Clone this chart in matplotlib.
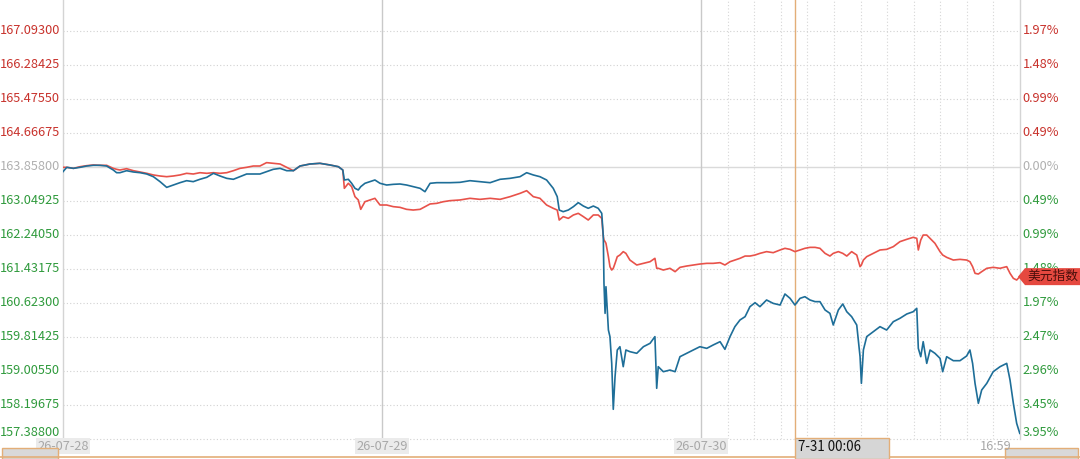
import matplotlib.pyplot as plt
import matplotlib.transforms as mtransforms
from matplotlib.lines import Line2D
from matplotlib.patches import Rectangle, Polygon

plt.rcParams['font.family'] = ['Noto Sans CJK SC', 'DejaVu Sans']

# reference price (previous close) and grid step of the left axis
BASE = 163.858
STEP = 0.80875

# minutes since the start of the 3-day window (one day = 1440 minutes, 17:00 -> 16:59)
minutes = [
    0, 17, 47, 77, 107, 137, 167, 197, 227, 242, 257, 287, 318, 348, 378, 408, 438, 468, 498,
    528, 558, 588, 618, 649, 679, 709, 739, 769, 799, 829, 859, 889, 919, 949, 980, 1010, 1040, 1070,
    1115, 1160, 1205, 1243, 1263, 1270, 1288, 1303, 1318, 1333, 1344, 1363, 1386, 1408, 1431, 1461,
    1491, 1521, 1551, 1581, 1612, 1634, 1657, 1687, 1717, 1747, 1792, 1837, 1882, 1928, 1973, 2018,
    2063, 2093, 2123, 2153,
    2183, 2213, 2231, 2240, 2258, 2281, 2304, 2326, 2349, 2371, 2394, 2416, 2432, 2439, 2442, 2447,
    2451, 2462, 2469, 2477, 2484, 2492, 2502, 2514, 2529, 2541, 2559, 2590, 2620, 2650, 2672, 2680,
    2687, 2710, 2740, 2763, 2785, 2815, 2845, 2875, 2906, 2935, 2966, 2988, 3011, 3033, 3056, 3079,
    3101, 3124, 3146, 3176, 3206, 3237,
    3259, 3282, 3304, 3327, 3349, 3372, 3395, 3417, 3440, 3462, 3477, 3500, 3520, 3538, 3560, 3583,
    3598, 3604, 3613, 3628, 3658, 3688, 3718, 3748, 3778, 3809, 3838, 3854, 3861, 3872, 3883, 3899,
    3914, 3936, 3959, 3971, 3989, 4019, 4049, 4079, 4094, 4106, 4117, 4132, 4147, 4170, 4199, 4230,
    4260, 4275, 4290, 4305, 4319,
]

# main symbol, % change vs BASE (blue line, left axis in price)
main_pct = [
    -0.072, -0.009, -0.024, -0.009, 0.010, 0.020, 0.020, 0.010, -0.048, -0.087, -0.087, -0.058,
    -0.077, -0.087, -0.106, -0.145, -0.217, -0.300, -0.266, -0.232, -0.203, -0.217, -0.183, -0.154,
    -0.096, -0.135, -0.169, -0.183, -0.145, -0.106, -0.106, -0.106, -0.072, -0.038, -0.024, -0.058,
    -0.058, 0.010,
    0.039, 0.049, 0.025, 0.000, -0.048, -0.193, -0.183, -0.241, -0.314, -0.338, -0.290, -0.241,
    -0.217, -0.193, -0.241, -0.266, -0.256, -0.251, -0.266, -0.290, -0.314, -0.363, -0.241, -0.232,
    -0.232, -0.232, -0.227, -0.203, -0.217, -0.232, -0.183, -0.169, -0.145, -0.087, -0.120, -0.145,
    -0.193, -0.314, -0.435, -0.629, -0.653, -0.629, -0.580, -0.522, -0.571, -0.604, -0.571, -0.604,
    -0.677, -1.016, -1.693, -2.129, -1.742, -2.371, -2.467, -2.855, -3.522, -3.048, -2.661, -2.613,
    -2.903, -2.661, -2.685, -2.709, -2.613, -2.564, -2.467, -3.217, -2.903, -2.976, -2.952, -2.976,
    -2.758, -2.709, -2.661, -2.613, -2.637, -2.588, -2.540, -2.651, -2.467, -2.322, -2.225, -2.177,
    -2.032, -1.974, -2.032, -1.935, -1.984, -2.008,
    -1.848, -1.911, -2.008, -1.911, -1.887, -1.935, -1.959, -1.959, -2.080, -2.129, -2.298, -2.080,
    -1.993, -2.105, -2.177, -2.298, -2.758, -3.145, -2.661, -2.467, -2.395, -2.322, -2.371, -2.250,
    -2.201, -2.138, -2.105, -2.056, -2.637, -2.758, -2.540, -2.855, -2.661, -2.709, -2.782, -2.976,
    -2.758, -2.816, -2.816, -2.748, -2.661, -2.855, -3.145, -3.435, -3.242, -3.145, -2.976, -2.903,
    -2.855, -3.097, -3.435, -3.726, -3.871,
]

# 美元指数, % change (red line, right axis)
dxy_pct = [
    -0.009, -0.009, -0.024, 0.000, 0.015, 0.025, 0.020, 0.020, -0.024, -0.038, -0.048, -0.029,
    -0.058, -0.077, -0.096, -0.120, -0.135, -0.145, -0.135, -0.120, -0.096, -0.106, -0.087, -0.096,
    -0.087, -0.096, -0.087, -0.058, -0.024, -0.009, 0.010, 0.010, 0.059, 0.049, 0.039, -0.009,
    -0.058, 0.010,
    0.039, 0.049, 0.025, 0.000, -0.048, -0.314, -0.241, -0.290, -0.435, -0.483, -0.619, -0.508,
    -0.483, -0.459, -0.556, -0.556, -0.580, -0.590, -0.619, -0.629, -0.619, -0.580, -0.541, -0.532,
    -0.508, -0.493, -0.483, -0.459, -0.474, -0.459, -0.474, -0.435, -0.387, -0.348, -0.435, -0.459,
    -0.556, -0.604, -0.629, -0.774, -0.725, -0.750, -0.701, -0.677, -0.725, -0.774, -0.701, -0.701,
    -0.750, -1.016, -1.064, -1.088, -1.112, -1.306, -1.451, -1.500, -1.475, -1.403, -1.306, -1.282,
    -1.233, -1.258, -1.355, -1.427, -1.403, -1.379, -1.330, -1.475, -1.475, -1.500, -1.475, -1.524,
    -1.461, -1.442, -1.427, -1.413, -1.403, -1.403, -1.393, -1.427, -1.379, -1.355, -1.330, -1.297,
    -1.297, -1.282, -1.258, -1.233, -1.248, -1.209,
    -1.185, -1.200, -1.233, -1.209, -1.185, -1.171, -1.171, -1.185, -1.258, -1.297, -1.258, -1.233,
    -1.258, -1.297, -1.233, -1.282, -1.451, -1.427, -1.355, -1.306, -1.258, -1.209, -1.200, -1.161,
    -1.088, -1.054, -1.025, -1.040, -1.209, -1.064, -0.992, -0.992, -1.040, -1.112, -1.233, -1.282,
    -1.316, -1.355, -1.345, -1.355, -1.379, -1.451, -1.548, -1.558, -1.524, -1.475, -1.461, -1.475,
    -1.451, -1.548, -1.621, -1.645, -1.596,
]

day_starts = [0, 1440, 2880]
day_labels = ["26-07-28", "26-07-29", "26-07-30"]
end_label = "16:59"
cross_minute = 3306
cross_label = "7-31 00:06"
dxy_name = "美元指数"
grid_steps = list(range(-8, 6))

RED_TXT = "#c8322c"
GREEN_TXT = "#2f9a3c"
GRAY_TXT = "#b0b0b0"
RED_LINE = "#e8524a"
BLUE_LINE = "#1e6e98"
ORANGE = "#e3ae78"

W, H = 1080, 459
fig = plt.figure(figsize=(W / 100, H / 100), dpi=100)
ax = fig.add_axes([63 / W, 20.3 / H, 957 / W, 438.7 / H])
ax.set_xlim(0, 4320)
ax.set_ylim(BASE - 8 * STEP, BASE + 166.7 / 34 * STEP)
ax.set_xticks([])
ax.set_yticks([])
for side in ("top", "bottom"):
    ax.spines[side].set_visible(False)
for side in ("left", "right"):
    ax.spines[side].set_color("#d4d4d4")
    ax.spines[side].set_linewidth(1.0)

ytrans = mtransforms.blended_transform_factory(ax.transAxes, ax.transData)
for k in grid_steps:
    level = BASE + k * STEP
    pct = k * STEP / BASE * 100
    if k == 0:
        ax.axhline(level, color="#dadada", lw=1.0, zorder=1)
        col = GRAY_TXT
    else:
        ax.axhline(level, color="#d2d2d2", lw=0.8, ls=(0, (1, 2)), zorder=1, clip_on=False)
        col = RED_TXT if k > 0 else GREEN_TXT
    va = "bottom" if k == grid_steps[0] else "center"
    ax.text(-0.003, level, f"{level:.5f}", transform=ytrans, ha="right", va=va,
            color=col, fontsize=9.2, clip_on=False)
    ax.text(1.003, level, f"{abs(pct):.2f}%", transform=ytrans, ha="left", va=va,
            color=col, fontsize=9.2, clip_on=False)

# day separators and 2-hour grid of the last day
for m in day_starts[1:]:
    ax.axvline(m, color="#c9c9c9", lw=1.0, zorder=1)
for m in range(day_starts[-1] + 120, 4320, 120):
    ax.axvline(m, color="#d6d6d6", lw=0.8, ls=(0, (1, 2)), zorder=1)
ax.axvline(cross_minute, color=ORANGE, lw=1.0, zorder=2)

dxy_price = [BASE * (1 + p / 100) for p in dxy_pct]
main_price = [BASE * (1 + p / 100) for p in main_pct]
ax.plot(minutes, dxy_price, color=RED_LINE, lw=1.2, zorder=3)
ax.plot(minutes, main_price, color=BLUE_LINE, lw=1.2, zorder=4)

# bottom time axis
xtrans = mtransforms.blended_transform_factory(ax.transData, fig.transFigure)
label_y = 13 / H
for m, lab in zip(day_starts, day_labels):
    ax.text(m, label_y, lab, transform=xtrans, ha="center", va="center", color="#a8a8a8",
            fontsize=9.2, clip_on=False,
            bbox=dict(boxstyle="square,pad=0.1", fc="#ebebeb", ec="none"))
fig.text(996 / W, label_y, end_label, ha="center", va="center", color="#a8a8a8", fontsize=9.2)

fig.add_artist(Line2D([0, 1], [2.5 / H, 2.5 / H], transform=fig.transFigure, color=ORANGE, lw=1.2))
fig.add_artist(Rectangle((1.5 / W, 0.5 / H), 56 / W, 10.5 / H, transform=fig.transFigure,
                         fc="#d9d9d9", ec=ORANGE, lw=1.0))
fig.add_artist(Rectangle((1005 / W, 0.5 / H), 73 / W, 10.5 / H, transform=fig.transFigure,
                         fc="#d9d9d9", ec=ORANGE, lw=1.0))

# crosshair time label
cx = ax.transData.transform((cross_minute, BASE))[0]
fig.add_artist(Rectangle((cx / W, 0.5 / H), 94 / W, 21 / H, transform=fig.transFigure,
                         fc="#d6d6d6", ec=ORANGE, lw=1.0, zorder=5))
fig.text((cx + 3) / W, 12 / H, cross_label, ha="left", va="center", color="#111111",
         fontsize=9.6, zorder=6)

# last-value tag for 美元指数
ex, ey = ax.transData.transform((4320, dxy_price[-1]))
tag = [(ex - 2, ey), (ex + 5, ey + 8.5), (W, ey + 8.5), (W, ey - 8.5), (ex + 5, ey - 8.5)]
fig.add_artist(Polygon([(px / W, py / H) for px, py in tag], closed=True,
                       transform=fig.transFigure, fc="#e5483f", ec="none", zorder=5))
fig.text((ex + 33) / W, ey / H, dxy_name, ha="center", va="center", color="#4a0f0b",
         fontsize=9.2, zorder=6)

fig.savefig("out.png", dpi=100)
